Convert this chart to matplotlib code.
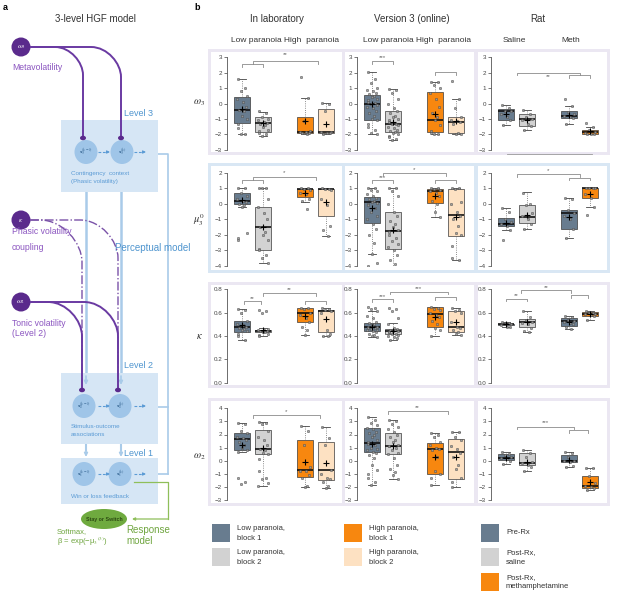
import matplotlib
matplotlib.use("Agg")
import matplotlib.pyplot as plt
from matplotlib.patches import Rectangle, Ellipse, Circle, PathPatch
from matplotlib.path import Path

W, H = 617, 599

plt.rcParams["font.family"] = ["Liberation Sans", "DejaVu Sans"]
plt.rcParams["mathtext.fontset"] = "stix"

# ---------------- panel b data ----------------
# box stats per group: (whislo, q1, median, q3, whishi, mean)
W3_LAB_BOX = [(-2.0, -1.28, -0.42, 0.45, 1.6, -0.35), (-2.1, -1.83, -1.27, -0.88, -0.52, -1.25),
              (-1.95, -1.9, -1.85, -0.88, 0.35, -1.15), (-1.95, -1.9, -1.85, -0.35, 0.05, -1.3)]
W3_ONL_BOX = [(-2.0, -1.07, 0.0, 0.55, 2.05, -0.05), (-2.35, -1.85, -1.3, -0.5, 0.95, -1.2),
              (-1.95, -1.88, -1.08, 0.75, 1.4, -0.65), (-1.95, -1.93, -1.17, -0.88, 0.28, -1.15)]
W3_RAT_BOX = [(-1.4, -1.1, -0.5, -0.38, -0.1, -0.65), (-1.72, -1.45, -1.03, -0.7, -0.4, -1.05),
              (-1.33, -0.92, -0.8, -0.5, -0.15, -0.75), (-2.0, -2.0, -1.87, -1.73, -1.5, -1.8)]

MU3_LAB_BOX = [(-0.2, -0.02, 0.2, 0.67, 1.0, 0.25), (-3.8, -2.94, -1.48, -0.23, 1.0, -1.5),
               (0.13, 0.45, 0.97, 0.97, 1.0, 0.67), (-2.05, -0.8, 0.93, 0.95, 1.0, 0.1)]
MU3_ONL_BOX = [(-3.2, -1.23, 0.09, 0.45, 1.0, -0.3), (-4.2, -2.88, -1.76, -0.52, 1.0, -1.7),
               (-0.84, 0.02, 0.84, 0.97, 1.0, 0.5), (-3.6, -2.06, -0.73, 0.97, 1.0, -0.85)]
MU3_RAT_BOX = [(-1.7, -1.44, -1.27, -0.94, -0.3, -1.25), (-1.6, -1.23, -0.84, -0.08, 0.73, -0.7),
               (-2.23, -1.63, -0.58, -0.4, 0.35, -0.85), (-0.23, 0.35, 1.0, 1.0, 1.0, 0.6)]

KAPPA_LAB_BOX = [(0.366, 0.437, 0.475, 0.531, 0.63, 0.49), (0.40, 0.43, 0.44, 0.455, 0.47, 0.45),
                 (0.405, 0.523, 0.60, 0.637, 0.64, 0.57), (0.40, 0.437, 0.61, 0.624, 0.64, 0.545)]
KAPPA_ONL_BOX = [(0.39, 0.446, 0.48, 0.509, 0.61, 0.48), (0.366, 0.415, 0.44, 0.46, 0.51, 0.445),
                 (0.40, 0.48, 0.585, 0.65, 0.65, 0.56), (0.41, 0.437, 0.48, 0.61, 0.64, 0.52)]
KAPPA_RAT_BOX = [(0.475, 0.49, 0.5, 0.505, 0.52, 0.5), (0.437, 0.48, 0.52, 0.545, 0.61, 0.52),
                 (0.46, 0.487, 0.53, 0.555, 0.575, 0.52), (0.54, 0.575, 0.59, 0.605, 0.61, 0.59)]

W2_LAB_BOX = [(0.7, 0.84, 1.68, 2.13, 2.9, 1.2), (-1.95, 0.52, 0.92, 2.36, 2.95, 1.0),
              (-1.97, -1.25, -0.74, 1.55, 2.65, -0.1), (-2.05, -1.45, -0.74, 1.4, 2.6, -0.2)]
W2_ONL_BOX = [(-1.85, 0.64, 1.37, 2.47, 3.3, 1.3), (-1.4, 0.52, 1.16, 2.13, 3.1, 1.1),
              (-1.85, -1.05, 0.88, 1.37, 2.1, 0.25), (-2.0, -1.4, 0.64, 1.62, 2.2, 0.25)]
W2_RAT_BOX = [(-0.25, 0.05, 0.2, 0.48, 0.7, 0.2), (-0.8, -0.33, -0.15, 0.62, 0.85, -0.1),
              (-0.5, -0.08, 0.0, 0.45, 0.7, 0.05), (-2.2, -2.05, -1.9, -1.15, -0.55, -1.62)]

# individual subjects per group
W3_LAB_PTS = [
    [1.6, 1.0, 0.8, 0.5, 0.3, 0.1, -0.2, -0.4, -0.5, -0.8, -1.0, -1.3, -1.6, -2.0, -2.0],
    [-0.5, -0.6, -0.9, -1.0, -1.1, -1.2, -1.25, -1.3, -1.4, -1.5, -1.7, -1.8, -1.9, -2.0, -2.1],
    [1.7, 0.35, -1.15, -1.8, -1.85, -1.85, -1.9, -1.9, -1.95],
    [0.05, 0.0, -0.5, -1.85, -1.85, -1.9, -1.9, -1.95]]
W3_ONL_PTS = [
    [2.05, 1.6, 1.3, 1.0, 0.9, 0.8, 0.7, 0.6, 0.5, 0.4, 0.3, 0.2, 0.1, 0.05, 0.0, -0.1, -0.2,
     -0.3, -0.5, -0.6, -0.8, -1.0, -1.1, -1.3, -1.5, -1.7, -1.9, -2.0],
    [0.95, 0.9, 0.7, 0.3, 0.0, -0.3, -0.5, -0.6, -0.8, -0.9, -1.0, -1.1, -1.2, -1.3, -1.35, -1.4,
     -1.5, -1.6, -1.7, -1.8, -1.85, -1.9, -2.0, -2.1, -2.2, -2.3, -2.35],
    [1.4, 1.4, 1.2, 1.0, 0.7, 0.3, -0.2, -0.6, -0.9, -1.1, -1.4, -1.8, -1.9, -1.95, -2.0],
    [1.47, 0.28, -0.3, -0.9, -1.1, -1.15, -1.2, -1.3, -1.9, -1.95, -1.95]]
W3_RAT_PTS = [
    [-0.1, -0.3, -0.5, -0.5, -0.7, -0.9, -1.1, -1.4],
    [-0.4, -0.7, -0.9, -1.0, -1.1, -1.3, -1.45, -1.7],
    [0.3, -0.15, -0.55, -0.7, -0.8, -0.85, -0.95, -1.3],
    [-1.25, -1.5, -1.75, -1.85, -1.9, -1.95, -2.0, -2.0]]

MU3_LAB_PTS = [
    [1.0, 1.0, 0.7, 0.5, 0.3, 0.2, 0.1, 0.0, -0.1, -0.2, -1.85, -2.2, -2.35],
    [1.0, 1.0, 1.0, 0.3, -0.2, -0.6, -1.0, -1.5, -1.8, -2.0, -2.3, -2.9, -3.0, -3.3, -3.5, -3.8],
    [1.0, 1.0, 0.95, 0.9, 0.7, 0.6, 0.3, 0.15, -0.35],
    [1.0, 0.95, 0.95, 0.9, 0.3, -0.1, -1.4, -1.7, -2.05]]
MU3_ONL_PTS = [
    [1.0, 1.0, 0.9, 0.8, 0.6, 0.5, 0.4, 0.3, 0.2, 0.1, 0.05, 0.0, -0.1, -0.3, -0.5, -0.8, -1.0,
     -1.3, -1.6, -2.0, -2.5, -3.2, -3.8, -4.0],
    [1.0, 1.0, 0.8, 0.5, 0.0, -0.5, -0.8, -1.1, -1.3, -1.5, -1.7, -1.8, -2.0, -2.2, -2.4, -2.6,
     -2.8, -3.0, -3.3, -3.6, -3.9, -4.2],
    [1.0, 1.0, 0.95, 0.9, 0.85, 0.7, 0.5, 0.2, 0.0, -0.5, -0.84],
    [1.0, 1.0, 0.95, 0.1, 0.0, -0.5, -0.8, -1.0, -1.4, -1.9, -2.0, -2.7, -3.5, -3.6]]
MU3_RAT_PTS = [
    [-0.3, -0.5, -1.0, -1.2, -1.3, -1.4, -1.7, -2.33],
    [0.7, 0.0, -0.1, -0.6, -0.8, -1.0, -1.3, -1.6],
    [0.35, 0.3, -0.4, -0.6, -0.8, -1.0, -1.6, -2.2],
    [1.0, 1.0, 1.0, 1.0, 0.6, 0.35, -0.23, -0.7]]

KAPPA_LAB_PTS = [
    [0.63, 0.62, 0.6, 0.53, 0.5, 0.49, 0.48, 0.47, 0.46, 0.45, 0.44, 0.42, 0.4, 0.37],
    [0.62, 0.61, 0.6, 0.46, 0.45, 0.45, 0.44, 0.44, 0.43, 0.43, 0.42, 0.41, 0.40],
    [0.64, 0.64, 0.63, 0.6, 0.58, 0.55, 0.52, 0.48, 0.45, 0.405],
    [0.64, 0.63, 0.62, 0.61, 0.6, 0.45, 0.42, 0.40, 0.40]]
KAPPA_ONL_PTS = [
    [0.65, 0.64, 0.63, 0.61, 0.57, 0.55, 0.52, 0.51, 0.5, 0.49, 0.48, 0.48, 0.47, 0.47, 0.46,
     0.45, 0.45, 0.44, 0.43, 0.42, 0.41, 0.4, 0.39],
    [0.64, 0.63, 0.61, 0.55, 0.5, 0.47, 0.46, 0.45, 0.45, 0.44, 0.44, 0.43, 0.43, 0.42, 0.42,
     0.41, 0.40, 0.39, 0.38, 0.37],
    [0.65, 0.64, 0.63, 0.62, 0.6, 0.58, 0.56, 0.53, 0.5, 0.47, 0.45, 0.40],
    [0.64, 0.62, 0.61, 0.6, 0.52, 0.48, 0.47, 0.45, 0.43, 0.42, 0.41]]
KAPPA_RAT_PTS = [
    [0.52, 0.51, 0.5, 0.5, 0.49, 0.48, 0.475],
    [0.61, 0.56, 0.54, 0.52, 0.51, 0.5, 0.47, 0.44, 0.43],
    [0.57, 0.56, 0.54, 0.53, 0.52, 0.51, 0.5, 0.48, 0.46],
    [0.61, 0.6, 0.6, 0.59, 0.59, 0.58, 0.57, 0.54]]

W2_LAB_PTS = [
    [2.9, 2.8, 2.3, 2.1, 1.8, 1.7, 1.6, 1.4, 1.2, 1.0, 0.8, 0.7, -1.3, -1.6, -1.8],
    [2.95, 2.9, 2.8, 2.3, 1.8, 1.6, 1.2, 0.9, 0.8, 0.6, 0.5, 0.1, -0.8, -1.3, -1.4, -1.7, -1.95],
    [2.65, 2.3, 1.2, -0.5, -0.75, -0.8, -1.1, -1.3, -1.9, -1.97],
    [2.6, 1.7, 1.2, -0.7, -1.0, -1.3, -1.4, -1.6, -1.9, -2.05]]
W2_ONL_PTS = [
    [3.3, 3.1, 2.9, 2.7, 2.5, 2.4, 2.2, 2.1, 2.0, 1.8, 1.6, 1.4, 1.3, 1.2, 1.0, 0.9, 0.8, 0.7,
     0.6, 0.4, 0.2, -0.3, -0.7, -1.0, -1.3, -1.6, -1.85],
    [3.1, 3.0, 2.8, 2.6, 2.4, 2.2, 2.0, 1.8, 1.6, 1.4, 1.2, 1.15, 1.1, 1.0, 0.8, 0.6, 0.5, 0.2,
     -0.3, -0.6, -0.9, -1.1, -1.4],
    [2.1, 2.0, 1.8, 1.4, 1.2, 1.0, 0.9, 0.85, 0.3, -0.8, -1.0, -1.3, -1.85],
    [2.2, 2.2, 1.8, 1.6, 1.1, 0.9, 0.6, 0.3, -0.3, -0.6, -1.3, -1.6, -2.0]]
W2_RAT_PTS = [
    [0.7, 0.5, 0.4, 0.3, 0.2, 0.1, 0.0, -0.25],
    [0.85, 0.6, 0.3, -0.1, -0.2, -0.3, -0.5, -0.8],
    [0.7, 0.6, 0.3, 0.0, -0.05, -0.1, -0.4, -0.5],
    [-0.55, -0.55, -1.2, -1.7, -1.9, -2.0, -2.1, -2.2]]

# significance brackets: (x_left, x_right, y, label, label_y)
W3_LAB_SIG = [(1, 2, 2.55, "", 0), (1.5, 4.6, 2.77, "**", 3.15)]
W3_ONL_SIG = [(1, 2, 2.73, "***", 3.0), (4, 5, 2.05, "", 0)]
W3_RAT_SIG = [(1.5, 4.5, 2.0, "**", 1.75), (4, 5, 1.85, "", 0)]
MU3_LAB_SIG = [(1, 2, 1.53, "", 0), (1.5, 4.5, 1.7, "*", 1.98)]
MU3_ONL_SIG = [(1, 2, 1.53, "***", 1.72), (1.5, 4.5, 1.96, "*", 2.2), (4, 5, 1.53, "", 0)]
MU3_RAT_SIG = [(1.5, 4.5, 1.9, "*", 2.12), (4, 5, 1.68, "", 0)]
KAPPA_LAB_SIG = [(1.1, 1.9, 0.70, "**", 0.725), (2, 4.5, 0.77, "**", 0.795), (4, 5, 0.70, "", 0)]
KAPPA_ONL_SIG = [(1, 2, 0.715, "***", 0.74), (1.85, 4.6, 0.78, "***", 0.805), (4, 5, 0.73, "", 0)]
KAPPA_RAT_SIG = [(1, 2, 0.72, "**", 0.745), (1.7, 4.1, 0.79, "**", 0.815), (4.1, 4.9, 0.75, "", 0)]
W2_LAB_SIG = [(1.5, 4.7, 3.48, "*", 3.72)]
W2_ONL_SIG = [(1.75, 4.6, 3.8, "**", 4.02)]
W2_RAT_SIG = [(1.5, 4.25, 2.6, "***", 2.95), (4, 4.9, 2.35, "", 0)]

POSITIONS = [1, 2, 4, 5]
COL_TITLES = ["In laboratory", "Version 3 (online)", "Rat"]
SUB_TITLES = [("Low paranoia", "High  paranoia"), ("Low paranoia", "High  paranoia"), ("Saline", "Meth")]
ROW_LABELS = [r"$\omega_3$", r"$\mu_3^0$", r"$\kappa$", r"$\omega_2$"]
ROW_TICKS = [[3, 2, 1, 0, -1, -2, -3], [2, 1, 0, -1, -2, -3, -4],
             [0.8, 0.6, 0.4, 0.2, 0.0], [4, 3, 2, 1, 0, -1, -2, -3]]

# ---------------- styling ----------------
STEEL = "#687c8f"
GREY = "#d2d2d2"
ORANGE = "#f7870f"
PEACH = "#fde1c2"
LAV = "#ebe7f2"
LBLUE = "#d9e7f4"
HUMAN_COLORS = [STEEL, GREY, ORANGE, PEACH]
RAT_COLORS = [STEEL, GREY, STEEL, ORANGE]

PURPLE = "#5a2a8c"
PURPLE_TXT = "#8b55c0"
BLUE_TXT = "#4f95cf"
BOX_BLUE = "#d6e6f5"
NODE_BLUE = "#9fc5e8"
LINE_BLUE = "#a9cbe9"
GREEN = "#6faa3f"
GREEN_TXT = "#6fa53f"

JITTER = [-0.18, 0.12, -0.05, 0.22, -0.25, 0.03, 0.17, -0.12, 0.08, -0.02, 0.26, -0.2]

COL_SPINE = [227, 357, 491]
AX_W = 115
ROW_PIX = [(57.3, 149.7), (172.7, 266.0), (289.3, 382.7), (408.3, 500.0)]
ROW_FRAME = [(49, 155, LAV), (163, 273, LBLUE), (282, 388, LAV), (398, 506, LAV)]
PANEL_X = [(211, 342), (345, 474), (478, 607)]
ROW_LABEL_Y = [103, 220, 336, 457]


def px_axes(fig, x0, y0, x1, y1):
    return fig.add_axes([x0 / W, 1 - y1 / H, (x1 - x0) / W, (y1 - y0) / H])


def draw_panel(ax, boxes, pts, sigs, colors, lims, ticks):
    stats = []
    for (lo, q1, med, q3, hi, mean) in boxes:
        stats.append(dict(whislo=lo, q1=q1, med=med, q3=q3, whishi=hi, mean=mean, fliers=[]))
    bp = ax.bxp(stats, positions=POSITIONS, widths=0.8, patch_artist=True, showmeans=True,
                showfliers=False, capwidths=0.35,
                boxprops=dict(edgecolor="#3a3a3a", linewidth=0.5),
                whiskerprops=dict(color="#666666", linewidth=0.6, linestyle=":"),
                capprops=dict(color="#444444", linewidth=0.6),
                medianprops=dict(color="#111111", linewidth=1.2),
                meanprops=dict(marker="+", markeredgecolor="black", markersize=5, markeredgewidth=0.8))
    for patch, c in zip(bp["boxes"], colors):
        patch.set_facecolor(c)
    for m in bp["means"]:
        m.set_zorder(5)
    for pos, vals in zip(POSITIONS, pts):
        xs = [pos + JITTER[i % len(JITTER)] for i in range(len(vals))]
        ax.plot(xs, vals, "o", ms=1.8, mfc="#9a9a9a", mec="#3a3a3a", mew=0.3, alpha=0.9, zorder=4)
    rng = lims[1] - lims[0]
    drop = rng * 0.03
    for (x1, x2, y, label, ty) in sigs:
        ax.plot([x1, x1, x2, x2], [y - drop, y, y, y - drop], color="#8a8a8a", lw=0.6,
                clip_on=False, zorder=3)
        if label:
            ax.text((x1 + x2) / 2, ty, label, ha="center", va="center", fontsize=4.5,
                    color="#666666")
    ax.set_xlim(1 - 15 / 21, 1 - 15 / 21 + AX_W / 21)
    ax.set_ylim(lims)
    ax.set_yticks(ticks)
    if lims[1] < 1:
        ax.set_yticklabels([f"{t:.1f}" for t in ticks])
    else:
        ax.set_yticklabels([str(t).replace("-", "\u2212") for t in ticks])
    ax.set_xticks([])
    ax.patch.set_alpha(0)
    for s in ["top", "right", "bottom"]:
        ax.spines[s].set_visible(False)
    ax.spines["left"].set_color("#555555")
    ax.spines["left"].set_linewidth(0.6)
    ax.tick_params(axis="y", labelsize=4.5, length=2, width=0.5, pad=1.5, colors="#444444")


def curve(ax, x0, y0, xv, yend, r, **kw):
    verts = [(x0, y0), (xv - r, y0), (xv - r * 0.45, y0), (xv, y0 + r * 0.55), (xv, y0 + r), (xv, yend)]
    codes = [Path.MOVETO, Path.LINETO, Path.CURVE4, Path.CURVE4, Path.CURVE4, Path.LINETO]
    ax.add_patch(PathPatch(Path(verts, codes), fill=False, **kw))


def arrow(ax, x1, y1, x2, y2, color, lw=1.0, dashed=False, scale=5):
    if dashed:
        ax.plot([x1, x2 - 3], [y1, y2], color=color, lw=lw, ls=(0, (2.5, 1.5)))
        x1 = x2 - 3.5
    ax.annotate("", xy=(x2, y2), xytext=(x1, y1),
                arrowprops=dict(arrowstyle="-|>", color=color, lw=lw, mutation_scale=scale,
                                shrinkA=0, shrinkB=0))


def node(ax, x, y, level, sup):
    ax.add_patch(Ellipse((x, y), 23, 24, facecolor=NODE_BLUE, edgecolor="none", zorder=3))
    ax.text(x, y, r"$\mathbf{x}_%d^{(%s)}$" % (level, sup), ha="center", va="center",
            fontsize=3.8, color="#2b5c8a", zorder=4)


def draw_model(ax):
    ax.text(95, 19, "3-level HGF model", ha="center", va="center", fontsize=7, color="#333333")

    # perceptual model connector lines
    for x in (86, 121):
        ax.plot([x, x], [192, 378], color=LINE_BLUE, lw=1.8, zorder=1)
        arrow(ax, x, 376, x, 385, LINE_BLUE, lw=1.2, scale=5)
        ax.plot([x, x], [444, 450], color=LINE_BLUE, lw=1.5, zorder=1)
        arrow(ax, x, 449, x, 457, LINE_BLUE, lw=1.2, scale=5)
    ax.plot([136, 168, 168], [154, 154, 474], color=LINE_BLUE, lw=1.2)
    ax.plot([134, 168], [407, 407], color=LINE_BLUE, lw=1.2)
    ax.plot([134, 168], [474, 474], color=LINE_BLUE, lw=1.2)

    # level boxes
    for (y0, y1, lab, ly) in [(120, 192, "Level 3", 114), (373, 444, "Level 2", 366),
                              (458, 504, "Level 1", 453)]:
        ax.add_patch(Rectangle((61, y0), 97, y1 - y0, facecolor=BOX_BLUE, edgecolor="none", zorder=2))
        ax.text(124, ly, lab, ha="left", va="center", fontsize=6.5, color=BLUE_TXT, zorder=3)

    for (lvl, y) in [(3, 152), (2, 406), (1, 474)]:
        node(ax, 86 if lvl == 3 else 84, y, lvl, "k-1")
        node(ax, 122 if lvl == 3 else 120, y, lvl, "k")
        arrow(ax, 98, y, 110, y, "#5b9bd5", lw=0.8, dashed=True, scale=4)
        arrow(ax, 134, y, 146, y, "#5b9bd5", lw=0.8, dashed=True, scale=4)

    ax.text(71, 173, "Contingency  context", fontsize=4.5, color="#5b9bd5", va="center", zorder=4)
    ax.text(71, 181, "(Phasic volatility)", fontsize=4.5, color="#5b9bd5", va="center", zorder=4)
    ax.text(71, 427, "Stimulus-outcome", fontsize=4.5, color="#5b9bd5", va="center", zorder=4)
    ax.text(71, 435, "associations", fontsize=4.5, color="#5b9bd5", va="center", zorder=4)
    ax.text(71, 496, "Win or loss feedback", fontsize=4.5, color="#5b9bd5", va="center", zorder=4)
    ax.text(115, 248, "Perceptual model", fontsize=7, color=BLUE_TXT, va="center", zorder=4)

    # parameter nodes
    for (y, sym) in [(47, r"$\omega_3$"), (220, r"$\kappa$"), (302, r"$\omega_2$")]:
        ax.add_patch(Circle((21, y), 9.5, facecolor=PURPLE, edgecolor="none", zorder=3))
        ax.text(21, y, sym, ha="center", va="center", fontsize=5, color="white", zorder=4)
    ax.text(12, 68, "Metavolatility", fontsize=6.2, color=PURPLE_TXT, va="center")
    ax.text(12, 231, "Phasic volatility", fontsize=6.2, color=PURPLE_TXT, va="center")
    ax.text(12, 247, "coupling", fontsize=6.2, color=PURPLE_TXT, va="center")
    ax.text(12, 324, "Tonic volatility", fontsize=6.2, color=PURPLE_TXT, va="center")
    ax.text(12, 334, "(Level 2)", fontsize=6.2, color=PURPLE_TXT, va="center")

    curve(ax, 30, 47, 83, 136, 28, edgecolor="#6a3aa2", lw=1.4, zorder=5)
    curve(ax, 30, 47, 121, 136, 30, edgecolor="#6a3aa2", lw=1.4, zorder=5)
    curve(ax, 30, 220, 82, 388, 42, edgecolor="#7a52a8", lw=1.0, ls="-.", zorder=5)
    curve(ax, 30, 220, 118, 388, 38, edgecolor="#7a52a8", lw=1.0, ls="-.", zorder=5)
    curve(ax, 30, 302, 82, 389, 34, edgecolor="#6a3aa2", lw=1.4, zorder=5)
    curve(ax, 30, 302, 118, 389, 34, edgecolor="#6a3aa2", lw=1.4, zorder=5)
    for (x, y) in [(83, 138), (121, 138), (82, 390), (118, 390)]:
        ax.add_patch(Ellipse((x, y), 6, 4.5, facecolor=PURPLE, edgecolor="none", zorder=6))

    # response model
    ax.plot([134, 168, 168], [482, 482, 519], color="#8fbf5a", lw=0.9)
    arrow(ax, 168, 519, 132, 519, "#8fbf5a", lw=0.9, scale=4)
    ax.add_patch(Ellipse((104, 519), 46, 20, facecolor=GREEN, edgecolor="none", zorder=3))
    ax.text(104, 519, "Stay or Switch", ha="center", va="center", fontsize=3.8,
            color="#2c4a12", fontweight="bold", zorder=4)
    ax.text(57, 532, "Softmax,", fontsize=5.5, color=GREEN_TXT, va="center")
    ax.text(57, 541, r"β = exp(−μ$_3$$^{(3)}$)", fontsize=5.5, color=GREEN_TXT, va="center")
    ax.text(126, 530, "Response", fontsize=7, color=GREEN_TXT, va="center")
    ax.text(126, 541, "model", fontsize=7, color=GREEN_TXT, va="center")


def main():
    fig = plt.figure(figsize=(W / 100, H / 100), dpi=100)
    canvas = fig.add_axes([0, 0, 1, 1])
    canvas.set_xlim(0, W)
    canvas.set_ylim(H, 0)
    canvas.axis("off")
    canvas.set_zorder(-1)

    canvas.text(3, 8, "a", fontsize=6.5, fontweight="bold", va="center")
    canvas.text(194, 8, "b", fontsize=6.5, fontweight="bold", va="center")

    draw_model(canvas)

    # panel b headers
    for (cx, t) in zip([277, 412, 538], COL_TITLES):
        canvas.text(cx, 19, t, ha="center", va="center", fontsize=7, color="#333333")
    for (cxs, subs) in zip([(256, 312), (388, 444), (514, 571)], SUB_TITLES):
        for cx, s in zip(cxs, subs):
            canvas.text(cx, 40, s, ha="center", va="center", fontsize=6, color="#333333")

    # row frames + white panels
    for (y0, y1, c) in ROW_FRAME:
        canvas.add_patch(Rectangle((208, y0), 402, y1 - y0, facecolor=c, edgecolor="none"))
        for (x0, x1) in PANEL_X:
            canvas.add_patch(Rectangle((x0, y0 + 3), x1 - x0, y1 - y0 - 6,
                                       facecolor="white", edgecolor="none"))
    canvas.plot([507, 592], [154, 154], color="#9a9a9a", lw=0.6)

    for (y, lab) in zip(ROW_LABEL_Y, ROW_LABELS):
        canvas.text(199, y, lab, ha="center", va="center", fontsize=7.5, color="#333333")

    rows = [
        (W3_LAB_BOX, W3_LAB_PTS, W3_LAB_SIG, W3_ONL_BOX, W3_ONL_PTS, W3_ONL_SIG,
         W3_RAT_BOX, W3_RAT_PTS, W3_RAT_SIG),
        (MU3_LAB_BOX, MU3_LAB_PTS, MU3_LAB_SIG, MU3_ONL_BOX, MU3_ONL_PTS, MU3_ONL_SIG,
         MU3_RAT_BOX, MU3_RAT_PTS, MU3_RAT_SIG),
        (KAPPA_LAB_BOX, KAPPA_LAB_PTS, KAPPA_LAB_SIG, KAPPA_ONL_BOX, KAPPA_ONL_PTS, KAPPA_ONL_SIG,
         KAPPA_RAT_BOX, KAPPA_RAT_PTS, KAPPA_RAT_SIG),
        (W2_LAB_BOX, W2_LAB_PTS, W2_LAB_SIG, W2_ONL_BOX, W2_ONL_PTS, W2_ONL_SIG,
         W2_RAT_BOX, W2_RAT_PTS, W2_RAT_SIG),
    ]
    for r, row in enumerate(rows):
        ticks = ROW_TICKS[r]
        lims = (min(ticks), max(ticks))
        y0, y1 = ROW_PIX[r]
        for c in range(3):
            boxes, pts, sigs = row[3 * c], row[3 * c + 1], row[3 * c + 2]
            ax = px_axes(fig, COL_SPINE[c], y0, COL_SPINE[c] + AX_W, y1)
            colors = RAT_COLORS if c == 2 else HUMAN_COLORS
            draw_panel(ax, boxes, pts, sigs, colors, lims, ticks)

    # legends
    legend_items = [
        (212, 524, STEEL, ["Low paranoia,", "block 1"]),
        (212, 548, GREY, ["Low paranoia,", "block 2"]),
        (344, 524, ORANGE, ["High paranoia,", "block 1"]),
        (344, 548, PEACH, ["High paranoia,", "block 2"]),
        (481, 524, STEEL, ["Pre-Rx"]),
        (481, 548, GREY, ["Post-Rx,", "saline"]),
        (481, 573, ORANGE, ["Post-Rx,", "methamphetamine"]),
    ]
    for (x, y, c, lines) in legend_items:
        canvas.add_patch(Rectangle((x, y), 18, 18, facecolor=c, edgecolor="none"))
        if len(lines) == 1:
            canvas.text(x + 25, y + 9, lines[0], fontsize=5.5, va="center", color="#333333")
        else:
            canvas.text(x + 25, y + 4.5, lines[0], fontsize=5.5, va="center", color="#333333")
            canvas.text(x + 25, y + 14, lines[1], fontsize=5.5, va="center", color="#333333")

    fig.savefig("out.png", dpi=100)
    plt.close(fig)


if __name__ == "__main__":
    main()
